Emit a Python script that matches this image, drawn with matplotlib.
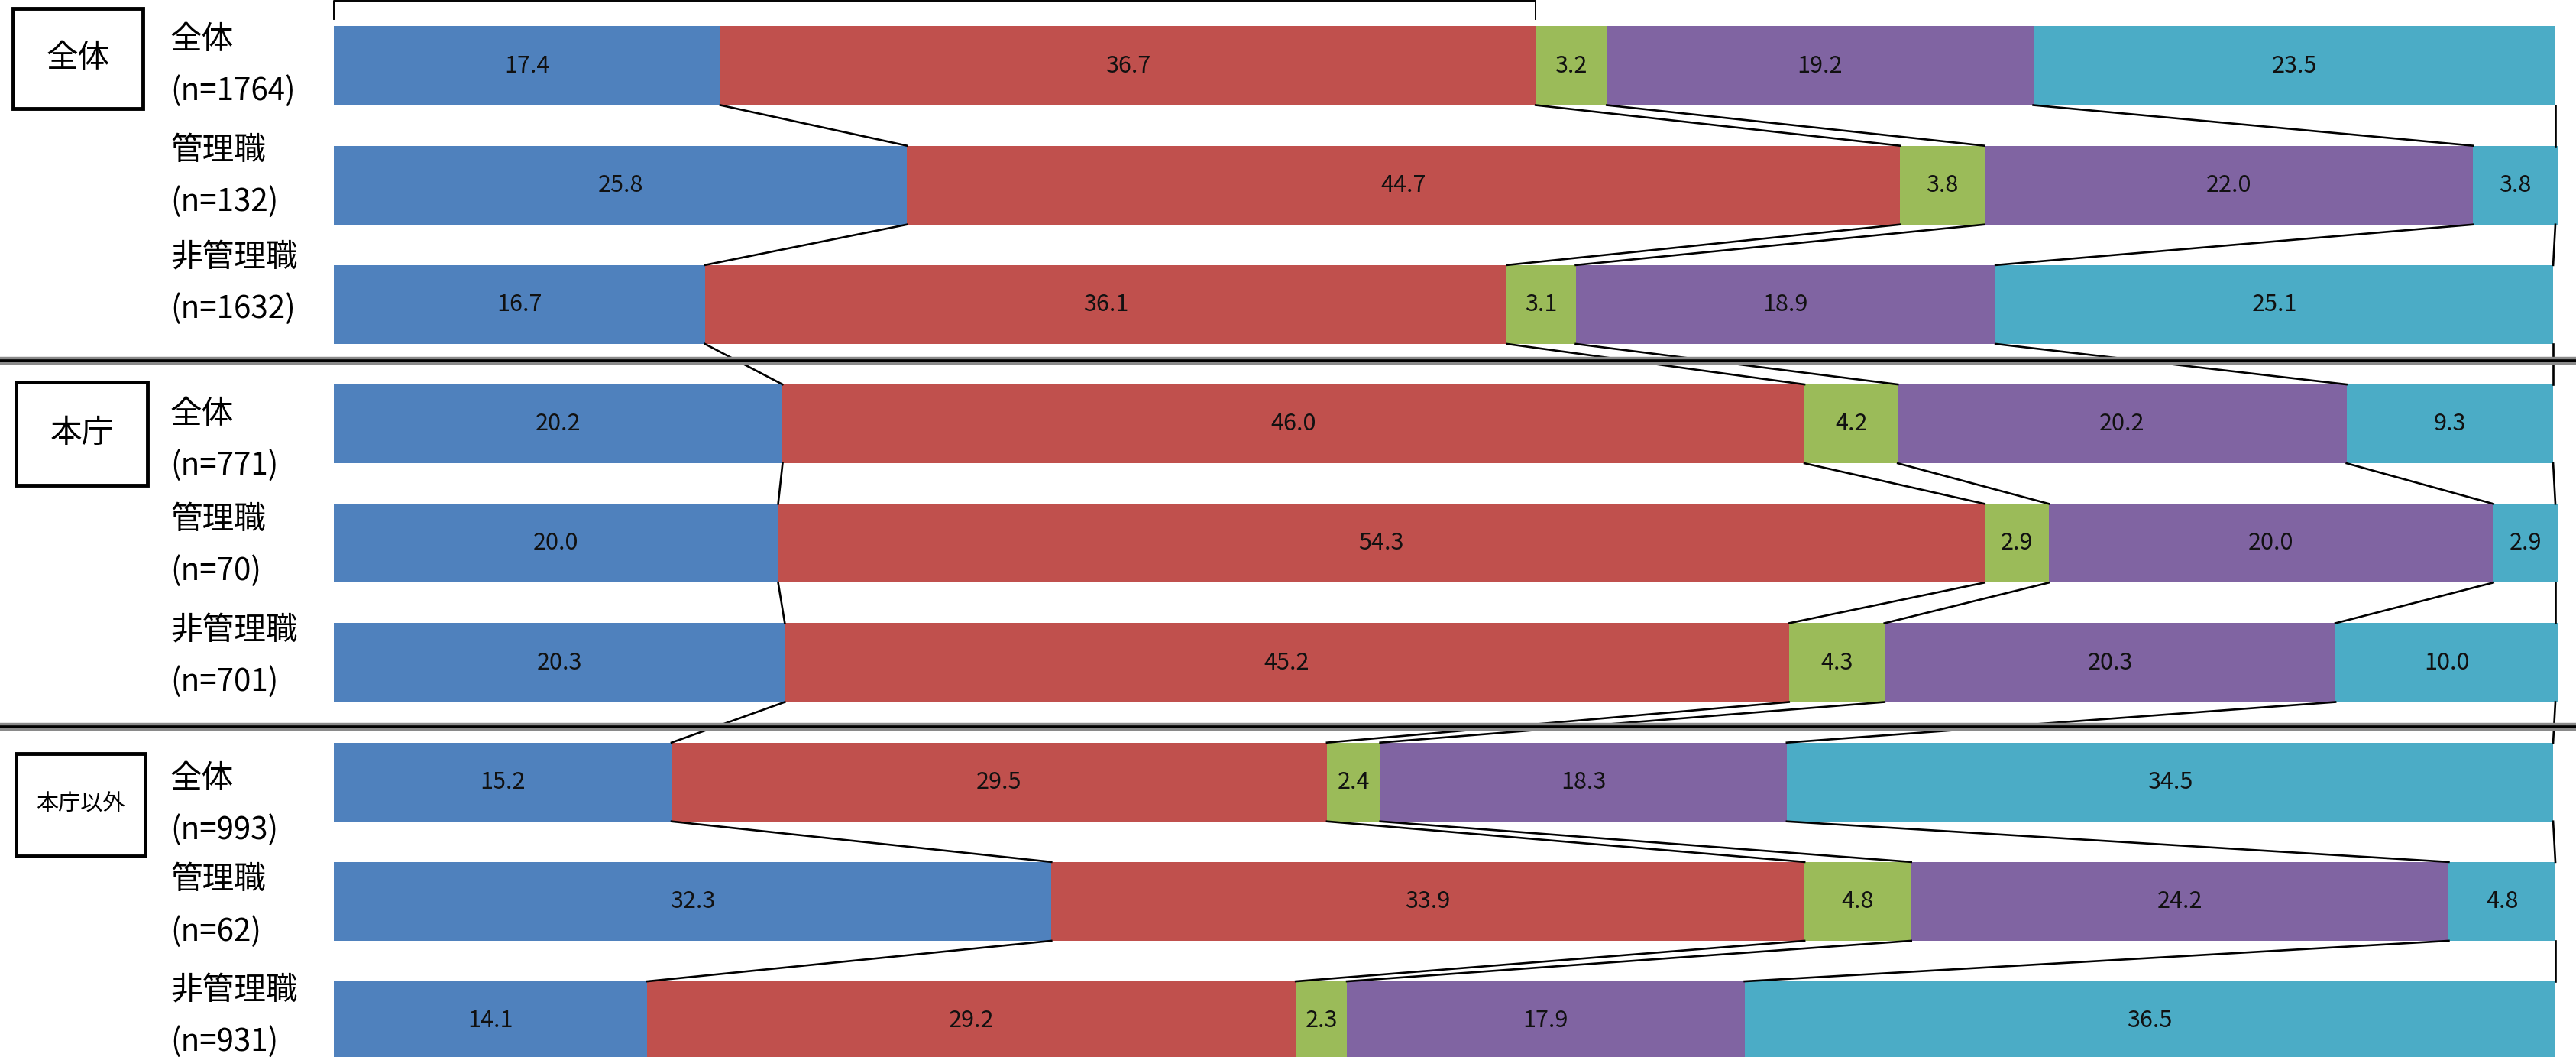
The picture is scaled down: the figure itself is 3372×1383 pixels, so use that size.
import matplotlib.pyplot as plt
from matplotlib.patches import Rectangle

plt.rcParams['font.family'] = ['Noto Sans CJK JP', 'DejaVu Sans']

# 区分・回答者
GROUPS = ["全体", "本庁", "本庁以外"]
ROW_NAMES = ["全体", "管理職", "非管理職"] * 3
COUNTS = [1764, 132, 1632, 771, 70, 701, 993, 62, 931]

# 回答割合 (%)
s1 = [17.4, 25.8, 16.7, 20.2, 20.0, 20.3, 15.2, 32.3, 14.1]
s2 = [36.7, 44.7, 36.1, 46.0, 54.3, 45.2, 29.5, 33.9, 29.2]
s3 = [3.2, 3.8, 3.1, 4.2, 2.9, 4.3, 2.4, 4.8, 2.3]
s4 = [19.2, 22.0, 18.9, 20.2, 20.0, 20.3, 18.3, 24.2, 17.9]
s5 = [23.5, 3.8, 25.1, 9.3, 2.9, 10.0, 34.5, 4.8, 36.5]
SERIES = [s1, s2, s3, s4, s5]
COLORS = ["#4F81BD", "#C0504D", "#9BBB59", "#8064A2", "#4BACC6"]

# レイアウト (ピクセル)
W, H = 3373, 1383
X0, X100 = 437, 3345
Y_FIRST, PITCH = 86, 156.2
BAR_H = 0.66


def px2x(px):
    return (px - X0) / (X100 - X0) * 100


def px2y(py):
    return (py - Y_FIRST) / PITCH


fig = plt.figure(figsize=(W / 100, H / 100), dpi=100)
ax = fig.add_axes([0, 0, 1, 1])
ax.set_xlim(px2x(0), px2x(W))
ax.set_ylim(px2y(H), px2y(0))
ax.axis("off")

n = len(s1)
ypos = list(range(n))
lefts = [0.0] * n
bounds = []  # 各系列の右端 (区分線用)
for vals, col in zip(SERIES, COLORS):
    ax.barh(ypos, vals, left=lefts, height=BAR_H, color=col, zorder=2)
    for i, v in enumerate(vals):
        ax.text(lefts[i] + v / 2, i, f"{v:.1f}", ha="center", va="center",
                fontsize=22, color="#111111", zorder=4)
    lefts = [l + v for l, v in zip(lefts, vals)]
    bounds.append(list(lefts))

# 区分線
for b in bounds:
    for i in range(n - 1):
        ax.plot([min(b[i], 100), min(b[i + 1], 100)],
                [i + BAR_H / 2, i + 1 - BAR_H / 2],
                color="black", lw=1.9, zorder=3)

# グループ間の区切り線
for py in (472, 951):
    ax.axhline(px2y(py), color="#8a8a8a", lw=7.5, zorder=5)
    ax.axhline(px2y(py), color="black", lw=2.6, zorder=6)

# 上部の括弧 (全体の肯定計)
top = s1[0] + s2[0]
ax.plot([0, 0, top, top], [px2y(25), px2y(1), px2y(1), px2y(25)],
        color="black", lw=1.4, zorder=3, clip_on=False)

# グループ名の枠
boxes = [(17, 11, 187, 142), (21, 500, 193, 635), (21, 986, 190, 1120)]
box_fs = [30, 30, 21]
for name, (bx0, by0, bx1, by1), fs in zip(GROUPS, boxes, box_fs):
    ax.add_patch(Rectangle((px2x(bx0), px2y(by1)), px2x(bx1) - px2x(bx0),
                           px2y(by0) - px2y(by1), fill=False,
                           edgecolor="black", lw=3.5, zorder=3))
    ax.text(px2x((bx0 + bx1) / 2), px2y((by0 + by1) / 2), name,
            ha="center", va="center", fontsize=fs, color="black")

# 行ラベル
label_y = [52, 197, 337, 542, 680, 825, 1019, 1152, 1296]
for name, cnt, ly in zip(ROW_NAMES, COUNTS, label_y):
    ax.text(px2x(223), px2y(ly), name, ha="left", va="center",
            fontsize=30, color="black")
    ax.text(px2x(223), px2y(ly + 67), f"(n={cnt})", ha="left",
            va="center", fontsize=29, color="black")

fig.savefig("out.png", dpi=100)
